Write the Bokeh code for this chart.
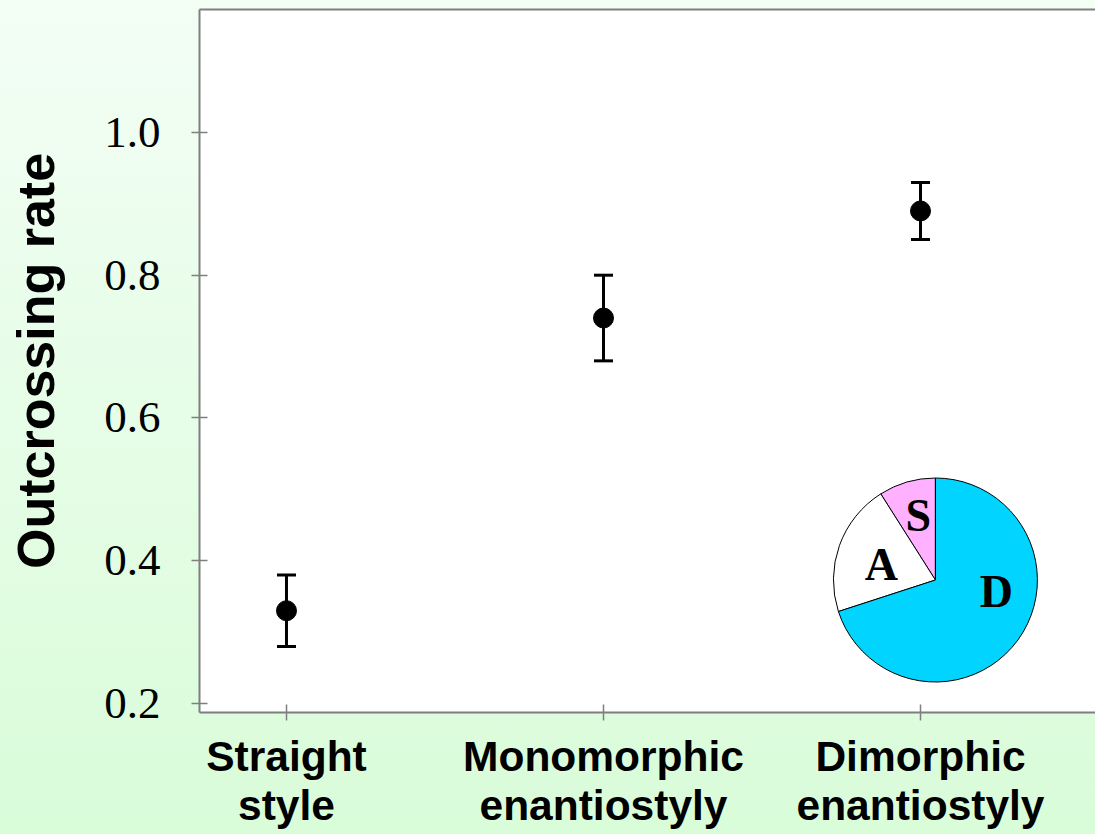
import math
from bokeh.plotting import figure
from bokeh.models import (Range1d, FixedTicker, PrintfTickFormatter, LinearAxis,
                          Whisker, ColumnDataSource, TeeHead, Label)
from bokeh.embed import file_html
from bokeh.resources import INLINE
from bokeh.core.properties import value

# ---- data ----
categories = ["Straight\nstyle", "Monomorphic\nenantiostyly", "Dimorphic\nenantiostyly"]
rates = [0.33, 0.74, 0.89]
lower = [0.28, 0.68, 0.85]
upper = [0.38, 0.80, 0.93]
y_ticks = [0.2, 0.4, 0.6, 0.8, 1.0]

pie_labels = ["S", "A", "D"]
pie_shares = [9, 21, 70]
pie_colors = ["#ffb0ff", "#ffffff", "#00d4ff"]

# inset placement (layout, data units of the main axes) and label offsets (px)
PIE_X, PIE_Y, PIE_R = 3.047, 0.373, 102
label_offsets = [(-17, 65), (-54, 16), (61, -11)]

xs = [i + 1 for i in range(len(categories))]

AXIS_GRAY = "#7f7f7f"

p = figure(width=1095, height=834,
           x_range=Range1d(0.7256, 3.552), y_range=Range1d(0.1874, 1.1722),
           output_backend="svg", toolbar_location=None,
           min_border_left=199, min_border_right=0, min_border_top=9,
           min_border_bottom=122)
p.grid.visible = False
p.outline_line_color = None
p.background_fill_color = "white"
p.border_fill_color = None
p.styles = {"background": "linear-gradient(to bottom, #f3fef5, #d9fcd9)"}

xa = p.xaxis[0]
xa.ticker = FixedTicker(ticks=xs)
xa.major_label_overrides = {x: c for x, c in zip(xs, categories)}
xa.major_label_text_font = "Liberation Sans"
xa.major_label_text_font_style = "bold"
xa.major_label_text_font_size = "42.5px"
xa.major_label_text_color = "black"
xa.major_label_text_line_height = 1.05
xa.major_label_standoff = 12
xa.axis_line_color = AXIS_GRAY
xa.axis_line_width = 2
xa.major_tick_in = 8
xa.major_tick_out = 8
xa.major_tick_line_color = AXIS_GRAY
xa.major_tick_line_width = 1.5
xa.minor_tick_line_color = None

ya = p.yaxis[0]
ya.ticker = FixedTicker(ticks=y_ticks)
ya.formatter = PrintfTickFormatter(format="%.1f")
ya.major_label_text_font = "Liberation Serif"
ya.major_label_text_font_size = "45px"
ya.major_label_text_color = "black"
ya.major_label_standoff = 31
ya.axis_line_color = AXIS_GRAY
ya.axis_line_width = 2
ya.major_tick_in = 8
ya.major_tick_out = 8
ya.major_tick_line_color = AXIS_GRAY
ya.major_tick_line_width = 1.5
ya.minor_tick_line_color = None
ya.axis_label = "Outcrossing rate"
ya.axis_label_text_font = "Liberation Sans"
ya.axis_label_text_font_style = "bold"
ya.axis_label_text_font_size = "52px"
ya.axis_label_text_color = "black"
ya.axis_label_standoff = 36

top = LinearAxis(ticker=FixedTicker(ticks=[]), major_tick_in=0, major_tick_out=0,
                 major_label_text_font_size="0px", major_label_standoff=0,
                 axis_line_color=AXIS_GRAY, axis_line_width=2,
                 minor_tick_line_color=None)
p.add_layout(top, "above")

src = ColumnDataSource(dict(x=xs, rate=rates, lower=lower, upper=upper))
w = Whisker(base="x", upper="upper", lower="lower", source=src,
            line_color="black", line_width=3,
            upper_head=TeeHead(size=19, line_width=3, line_color="black"),
            lower_head=TeeHead(size=19, line_width=3, line_color="black"))
p.add_layout(w)
p.scatter("x", "rate", source=src, size=20, color="black")

# pie inset
total = float(sum(pie_shares))
starts, ends = [], []
a = math.pi / 2
for s in pie_shares:
    starts.append(a)
    a += s / total * 2 * math.pi
    ends.append(a)
pie_src = ColumnDataSource(dict(x=[PIE_X] * len(pie_shares), y=[PIE_Y] * len(pie_shares),
                                start=starts, end=ends, color=pie_colors))
p.wedge(x="x", y="y", radius=PIE_R, radius_units="screen", start_angle="start",
        end_angle="end", direction="anticlock", fill_color="color",
        line_color="black", line_width=1, source=pie_src)

for lab, (dx, dy) in zip(pie_labels, label_offsets):
    p.add_layout(Label(x=PIE_X, y=PIE_Y, x_offset=dx, y_offset=dy, text=lab,
                       text_align="center", text_baseline="middle",
                       text_font="Liberation Serif", text_font_style="bold",
                       text_font_size="46px", text_color="black"))

open("out.html", "w").write(file_html(p, INLINE))
